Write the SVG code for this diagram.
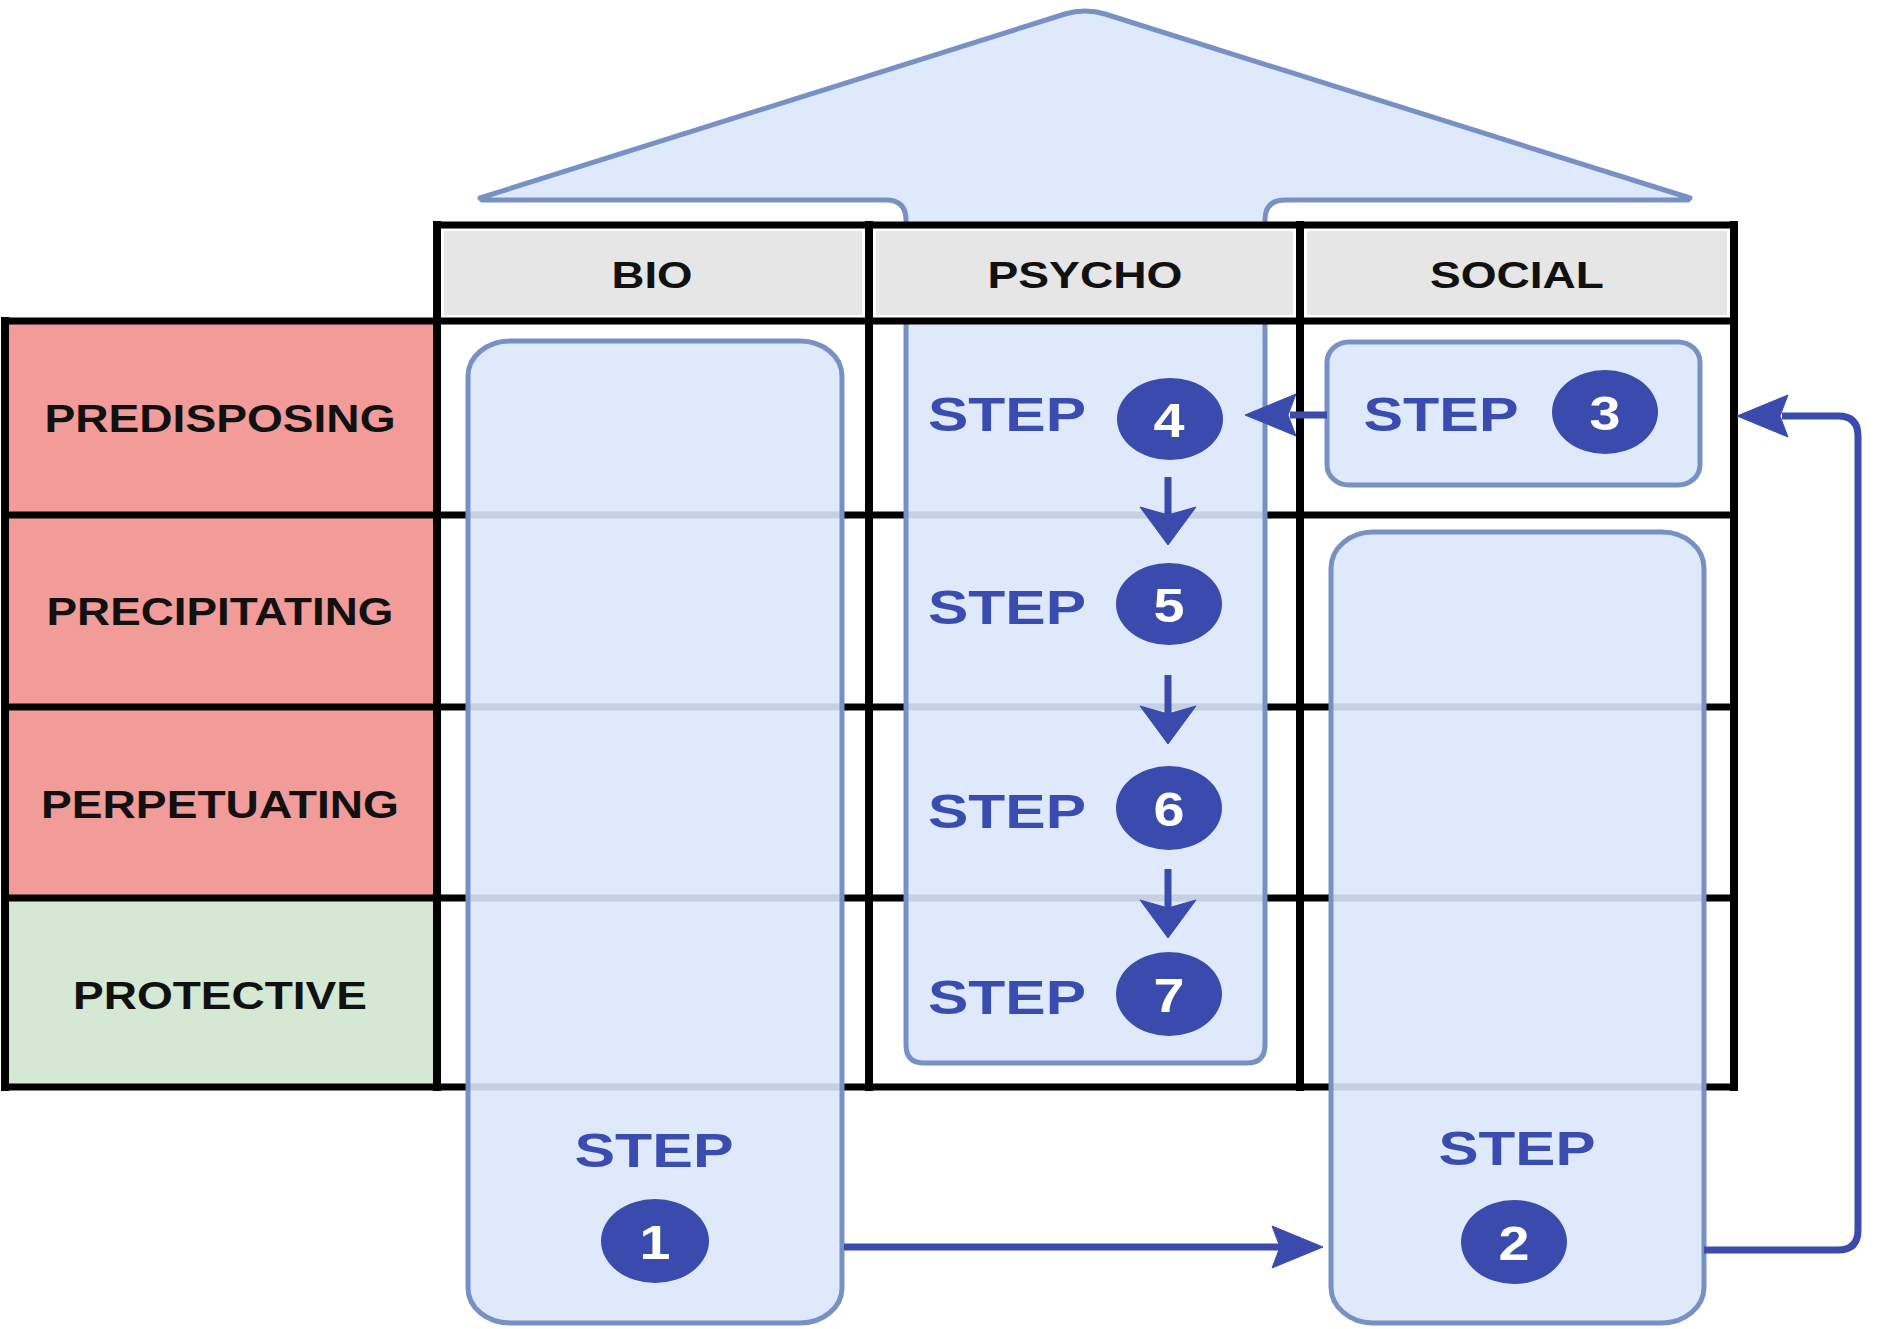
<svg xmlns="http://www.w3.org/2000/svg" width="1878" height="1329" viewBox="0 0 1878 1329">
<style>
.t{font-family:"Liberation Sans",Arial,sans-serif;font-weight:bold;text-anchor:middle}
.hdr{font-size:37px;fill:#111}
.row{font-size:39px;fill:#111}
.step{font-size:49px;fill:#3b4cb0}
.num{font-size:49px;fill:#fff}
.dot{fill:#3a4aad}
.box{fill:#dae8fc;fill-opacity:0.9;stroke:#7891c4;stroke-width:5;stroke-linejoin:round}
.gh{stroke:#000;stroke-width:7;fill:none;stroke-linecap:square}
.gv{stroke:#000;stroke-width:8;fill:none;stroke-linecap:square}
.hcell{fill:#e6e6e6}
.pink{fill:#f19c99}
.green{fill:#d5e8d4}
.ln{stroke:#3a4aad;stroke-width:7;fill:none}
.hd{fill:#3a4aad;stroke:#3a4aad;stroke-width:1;stroke-linejoin:round}
</style>
<rect x="0" y="0" width="1878" height="1329" fill="#ffffff"/>

<g id="row-labels">
  <g id="predisposing"><rect class="pink" x="5" y="321" width="432" height="194"/></g>
  <g id="precipitating"><rect class="pink" x="5" y="515" width="432" height="192"/></g>
  <g id="perpetuating"><rect class="pink" x="5" y="707" width="432" height="191"/></g>
  <g id="protective"><rect class="green" x="5" y="898" width="432" height="189"/></g>
</g>

<g id="grid-body">
  <line class="gh" x1="5" y1="515" x2="1734" y2="515"/>
  <line class="gh" x1="5" y1="707" x2="1734" y2="707"/>
  <line class="gh" x1="5" y1="898" x2="1734" y2="898"/>
  <line class="gh" x1="5" y1="1087" x2="1734" y2="1087"/>
  <line class="gv" x1="5" y1="321" x2="5" y2="1087"/>
  <line class="gv" x1="437" y1="321" x2="437" y2="1087"/>
  <line class="gv" x1="869" y1="321" x2="869" y2="1087"/>
  <line class="gv" x1="1300" y1="321" x2="1300" y2="1087"/>
  <line class="gv" x1="1734" y1="321" x2="1734" y2="1087"/>
</g>

<g id="psycho-roof">
  <path class="box" d="M480,198 L1065,14 Q1085,8 1105,14 L1690,198 L1688,200 L1285,200 Q1265,200 1265,220 L1265,1045 Q1265,1063 1247,1063 L924,1063 Q906,1063 906,1045 L906,220 Q906,200 886,200 L482,200 Z"/>
</g>
<g id="bio-box">
  <rect class="box" x="468" y="341" width="374" height="982" rx="42" ry="35"/>
</g>
<g id="social-box-3">
  <rect class="box" x="1327" y="342" width="373" height="143" rx="22" ry="20"/>
</g>
<g id="social-box-2">
  <rect class="box" x="1331" y="532" width="373" height="791" rx="42" ry="36"/>
</g>

<g id="header">
  <rect x="437" y="225" width="1297" height="96" fill="#ffffff"/>
  <g id="hdr-bio"><rect class="hcell" x="444" y="231" width="418" height="84"/><text class="t hdr" x="652" y="288" textLength="81" lengthAdjust="spacingAndGlyphs">BIO</text></g>
  <g id="hdr-psycho"><rect class="hcell" x="876" y="231" width="417" height="84"/><text class="t hdr" x="1085" y="288" textLength="195" lengthAdjust="spacingAndGlyphs">PSYCHO</text></g>
  <g id="hdr-social"><rect class="hcell" x="1307" y="231" width="420" height="84"/><text class="t hdr" x="1517" y="288" textLength="174" lengthAdjust="spacingAndGlyphs">SOCIAL</text></g>
  <line class="gh" x1="437" y1="225" x2="1734" y2="225"/>
  <line class="gh" x1="5" y1="321" x2="1734" y2="321"/>
  <line class="gv" x1="437" y1="225" x2="437" y2="321"/>
  <line class="gv" x1="869" y1="225" x2="869" y2="321"/>
  <line class="gv" x1="1300" y1="225" x2="1300" y2="321"/>
  <line class="gv" x1="1734" y1="225" x2="1734" y2="321"/>
</g>

<g id="row-label-text">
  <text class="t row" x="220" y="432" textLength="351" lengthAdjust="spacingAndGlyphs">PREDISPOSING</text>
  <text class="t row" x="220" y="625" textLength="347" lengthAdjust="spacingAndGlyphs">PRECIPITATING</text>
  <text class="t row" x="220" y="818" textLength="358" lengthAdjust="spacingAndGlyphs">PERPETUATING</text>
  <text class="t row" x="220" y="1009" textLength="294" lengthAdjust="spacingAndGlyphs">PROTECTIVE</text>
</g>

<g id="step1">
  <text class="t step" x="654" y="1167" textLength="159" lengthAdjust="spacingAndGlyphs">STEP</text>
  <ellipse class="dot" cx="655" cy="1241" rx="54" ry="42"/>
  <text class="t num" x="655" y="1259" textLength="31" lengthAdjust="spacingAndGlyphs">1</text>
</g>
<g id="step2">
  <text class="t step" x="1517" y="1165" textLength="157" lengthAdjust="spacingAndGlyphs">STEP</text>
  <ellipse class="dot" cx="1514" cy="1242" rx="53" ry="42"/>
  <text class="t num" x="1514" y="1260" textLength="31" lengthAdjust="spacingAndGlyphs">2</text>
</g>
<g id="step3">
  <text class="t step" x="1441" y="431" textLength="155" lengthAdjust="spacingAndGlyphs">STEP</text>
  <ellipse class="dot" cx="1605" cy="412" rx="53" ry="42"/>
  <text class="t num" x="1605" y="430" textLength="31" lengthAdjust="spacingAndGlyphs">3</text>
</g>
<g id="step4">
  <text class="t step" x="1007" y="431" textLength="158" lengthAdjust="spacingAndGlyphs">STEP</text>
  <ellipse class="dot" cx="1170" cy="419" rx="53" ry="41"/>
  <text class="t num" x="1169" y="437" textLength="31" lengthAdjust="spacingAndGlyphs">4</text>
</g>
<g id="step5">
  <text class="t step" x="1007" y="624" textLength="158" lengthAdjust="spacingAndGlyphs">STEP</text>
  <ellipse class="dot" cx="1169" cy="604" rx="53" ry="41"/>
  <text class="t num" x="1169" y="622" textLength="31" lengthAdjust="spacingAndGlyphs">5</text>
</g>
<g id="step6">
  <text class="t step" x="1007" y="828" textLength="158" lengthAdjust="spacingAndGlyphs">STEP</text>
  <ellipse class="dot" cx="1169" cy="808" rx="53" ry="42"/>
  <text class="t num" x="1169" y="826" textLength="31" lengthAdjust="spacingAndGlyphs">6</text>
</g>
<g id="step7">
  <text class="t step" x="1007" y="1014" textLength="158" lengthAdjust="spacingAndGlyphs">STEP</text>
  <ellipse class="dot" cx="1169" cy="994" rx="53" ry="42"/>
  <text class="t num" x="1169" y="1012" textLength="31" lengthAdjust="spacingAndGlyphs">7</text>
</g>

<g id="connectors">
  <path class="ln" d="M844,1247 H1284"/>
  <polygon class="hd" points="1323,1247 1272,1226 1280,1247 1272,1268"/>
  <path class="ln" d="M1704,1250 H1838 Q1858,1250 1858,1230 V436 Q1858,416 1838,416 H1782"/>
  <polygon class="hd" points="1737,416 1788,395 1780,416 1788,437"/>
  <path class="ln" d="M1327,415 H1290"/>
  <polygon class="hd" points="1245,415 1296,394 1288,415 1296,436"/>
  <path class="ln" d="M1168,477 V517"/>
  <polygon class="hd" points="1168,545 1140,507 1168,515 1196,507"/>
  <path class="ln" d="M1168,675 V714"/>
  <polygon class="hd" points="1168,744 1140,706 1168,714 1196,706"/>
  <path class="ln" d="M1168,869 V908"/>
  <polygon class="hd" points="1168,938 1140,900 1168,908 1196,900"/>
</g>
</svg>
